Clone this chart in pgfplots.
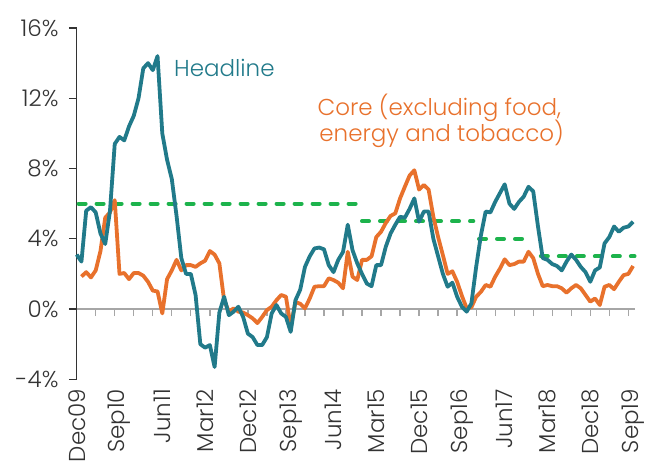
\documentclass[border=0pt]{standalone}
\usepackage{pgfplots}
\pgfplotsset{compat=1.18}
\usepackage{pgfplotstable}
\usepackage{fontspec}
\setmainfont{Poppins Light}
\definecolor{hcol}{HTML}{217A8A}
\definecolor{ccol}{HTML}{E8712C}
\definecolor{gcol}{HTML}{1DB34C}
\definecolor{tcol}{HTML}{333333}

\pgfplotstableread{
m v
0 3.1
1 2.7
2 5.6
3 5.8
4 5.5
5 4.3
6 3.7
7 5.6
8 9.4
9 9.8
10 9.6
11 10.4
12 11.0
13 12.0
14 13.7
15 14.0
16 13.6
17 14.4
18 10.0
19 8.5
20 7.4
21 5.3
22 2.9
23 2.0
24 2.0
25 0.8
26 -2.0
27 -2.2
28 -2.05
29 -3.3
30 -0.2
31 0.7
32 -0.35
33 -0.15
34 0.13
35 -0.45
36 -1.4
37 -1.6
38 -2.05
39 -2.05
40 -1.6
41 -0.25
42 0.23
43 -0.25
44 -0.45
45 -1.3
46 0.5
47 1.1
48 2.4
49 3.0
50 3.45
51 3.5
52 3.4
53 2.5
54 2.1
55 2.8
56 3.25
57 4.8
58 3.35
59 2.6
60 2.0
61 1.45
62 1.3
63 2.5
64 2.5
65 3.55
66 4.3
67 4.8
68 5.25
69 5.2
70 5.7
71 6.3
72 4.97
73 5.55
74 5.55
75 4.0
76 3.0
77 2.0
78 1.27
79 1.5
80 0.7
81 0.13
82 -0.15
83 0.32
84 2.4
85 4.2
86 5.55
87 5.5
88 6.1
89 6.6
90 7.1
91 6.0
92 5.7
93 6.1
94 6.4
95 6.96
96 6.7
97 4.7
98 2.9
99 2.8
100 2.56
101 2.45
102 2.2
103 2.7
104 3.1
105 2.8
106 2.4
107 2.1
108 1.55
109 2.2
110 2.37
111 3.74
112 4.1
113 4.7
114 4.4
115 4.63
116 4.7
117 4.97
}\headline

\pgfplotstableread{
m v
1 1.85
2 2.1
3 1.8
4 2.2
5 3.3
6 5.2
7 5.5
8 6.2
9 2.0
10 2.05
11 1.7
12 2.05
13 2.05
14 1.9
15 1.55
16 1.05
17 1.0
18 -0.25
19 1.7
20 2.2
21 2.8
22 2.2
23 2.5
24 2.5
25 2.4
26 2.6
27 2.75
28 3.3
29 3.1
30 2.6
31 0.5
32 -0.15
33 0.04
34 -0.15
35 -0.2
36 -0.35
37 -0.53
38 -0.8
39 -0.45
40 -0.06
41 0.13
42 0.5
43 0.8
44 0.7
45 -1.0
46 0.4
47 0.3
48 0.04
49 0.6
50 1.27
51 1.3
52 1.3
53 1.75
54 1.65
55 1.5
56 1.18
57 3.26
58 1.84
59 1.65
60 2.8
61 2.8
62 3.0
63 4.1
64 4.4
65 4.9
66 5.3
67 5.45
68 6.3
69 6.96
70 7.6
71 7.9
72 6.8
73 7.06
74 6.8
75 5.25
76 4.1
77 3.07
78 2.0
79 2.15
80 1.55
81 0.75
82 0.05
83 0.1
84 0.7
85 0.98
86 1.37
87 1.27
88 1.84
89 2.3
90 2.83
91 2.5
92 2.56
93 2.7
94 2.7
95 3.26
96 2.9
97 2.0
98 1.3
99 1.37
100 1.3
101 1.3
102 1.18
103 0.93
104 1.18
105 1.37
106 1.18
107 0.8
108 0.42
109 0.6
110 0.23
111 1.27
112 1.37
113 1.13
114 1.55
115 1.93
116 2.0
117 2.45
}\core

\begin{document}
\begin{tikzpicture}[font=\fontsize{23}{27}\selectfont]
% zero line with ticks
\begin{axis}[
  scale only axis, width=558.3pt, height=351.3pt,
  xmin=0, xmax=117.4, ymin=-4, ymax=16,
  axis x line=middle, axis y line=none,
  xtick={0,4,...,116}, xticklabels={},
  x axis line style={-, color=black!35, line width=1.3pt},
  xtick style={black!35, line width=1.3pt},
  major tick length=7pt, tick align=outside,
  ytick=\empty,
]
\end{axis}
\begin{axis}[
  name=main,
  scale only axis, width=558.3pt, height=351.3pt,
  xmin=0, xmax=117.4, ymin=-4, ymax=16,
  axis y line=left, axis x line*=bottom,
  x axis line style={draw=none},
  y axis line style={-, color=tcol, line width=1.3pt},
  ytick={-4,0,4,8,12,16},
  yticklabels={-4\%,0\%,4\%,8\%,12\%,16\%},
  ytick style={tcol, line width=1.3pt},
  xtick={0,9,...,117},
  xticklabels={Dec09,Sep10,Jun11,Mar12,Dec12,Sep13,Jun14,Mar15,Dec15,Sep16,Jun17,Mar18,Dec18,Sep19},
  xtick style={draw=none},
  major tick length=7.7pt, tick align=outside,
  xticklabel style={rotate=90, anchor=east, text=tcol, xshift=1.5pt},
  yticklabel style={text=tcol, xshift=-7pt},
  clip=false,
]
\addplot[gcol, line width=4pt, line cap=round, dash pattern=on 7pt off 11pt] coordinates {(0.4,6) (59,6)};
\addplot[gcol, line width=4pt, line cap=round, dash pattern=on 7pt off 11pt] coordinates {(60,5) (83.4,5)};
\addplot[gcol, line width=4pt, line cap=round, dash pattern=on 7pt off 11pt] coordinates {(84.6,4) (95,4)};
\addplot[gcol, line width=4pt, line cap=round, dash pattern=on 7pt off 11pt] coordinates {(97.6,3) (117.3,3)};
\addplot[ccol, line width=3.8pt, line join=round] table[x=m,y=v] {\core};
\addplot[hcol, line width=3.8pt, line join=round] table[x=m,y=v] {\headline};
\node[anchor=base west, text=hcol, inner sep=0pt] at (axis cs:20.46,13.26) {Headline};
\node[anchor=base west, text=ccol, inner sep=0pt] at (axis cs:50.6,11.04) {Core (excluding food,};
\node[anchor=base west, text=ccol, inner sep=0pt] at (axis cs:51.0,9.52) {energy and tobacco)};
\end{axis}
\pgfresetboundingbox
\path[use as bounding box] ([xshift=-76.7pt,yshift=-82.7pt]main.south west) rectangle ([xshift=569.3pt,yshift=379.3pt]main.south west);
\end{tikzpicture}
\end{document}
